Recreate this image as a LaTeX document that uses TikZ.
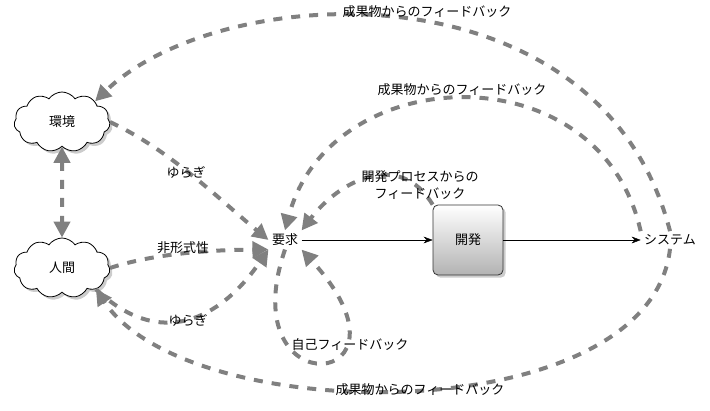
\documentclass[tikz,border=0pt]{standalone}
\usepackage{fontspec}
\setmainfont{Noto Sans CJK JP}
\usetikzlibrary{shapes.symbols,shadows,arrows.meta,positioning}
\tikzset{
  cloudbox/.style={cloud, cloud puffs=11, cloud puff arc=110, aspect=1.8, draw=black, thick, fill=white,
    minimum width=96pt, minimum height=60pt, drop shadow={opacity=0.4}},
  devbox/.style={draw=black!80, thick, rounded corners=5pt, minimum size=70pt,
    top color=white, bottom color=black!30, drop shadow={opacity=0.4}},
  fb/.style={draw=black!50, line width=4pt, dash pattern=on 9pt off 9pt,
    -{Triangle[length=16pt,width=16pt]}},
  flow/.style={-{Stealth[length=9pt]}, thin},
  lbl/.style={font=\fontsize{13}{17}\selectfont, align=center}
}
\begin{document}
\begin{tikzpicture}[x=1pt,y=-1pt]
\useasboundingbox (0,0) rectangle (710,411);
\node[cloudbox, lbl] (env) at (62,122) {環境};
\node[cloudbox, lbl] (hum) at (62,268) {人間};
\node[lbl] (req) at (285,240) {要求};
\node[devbox, lbl] (dev) at (468,240) {開発};
\node[lbl] (sys) at (670,240) {システム};
\draw[flow] (req) -- (dev);
\draw[flow] (dev) -- (sys);
% feedback loops
\draw[fb, {Triangle[length=16pt,width=16pt]}-{Triangle[length=16pt,width=16pt]}] (env) -- (hum);
\draw[fb] (env.east) .. controls (170,150) and (220,200) .. (req.west);
\draw[fb] (hum.east) .. controls (150,255) and (200,250) .. (req.south west);
\draw[fb] (hum.south east) .. controls (160,350) and (220,320) .. (req.south west);
\draw[fb] (req.south) .. controls (230,410) and (430,390) .. (req.south east);
\draw[fb] (dev.north west) .. controls (400,150) and (340,180) .. (req.north east);
\draw[fb] (sys.north west) .. controls (600,50) and (330,60) .. (req.north);
\draw[fb] (sys.north) .. controls (600,-40) and (220,-20) .. (env.north east);
\draw[fb] (sys.south) .. controls (650,430) and (190,430) .. (hum.south east);
% labels
\node[lbl] (l1) at (427,12) {成果物からのフィードバック};
\node[lbl] (l2) at (462,90) {成果物からのフィードバック};
\node[lbl] (l3) at (420,185) {開発プロセスからの\\フィードバック};
\node[lbl] (l4) at (186,172) {ゆらぎ};
\node[lbl] (l5) at (183,248) {非形式性};
\node[lbl] (l6) at (188,320) {ゆらぎ};
\node[lbl] (l7) at (350,345) {自己フィードバック};
\node[lbl] (l8) at (420,390) {成果物からのフィードバック};
\end{tikzpicture}
\end{document}
